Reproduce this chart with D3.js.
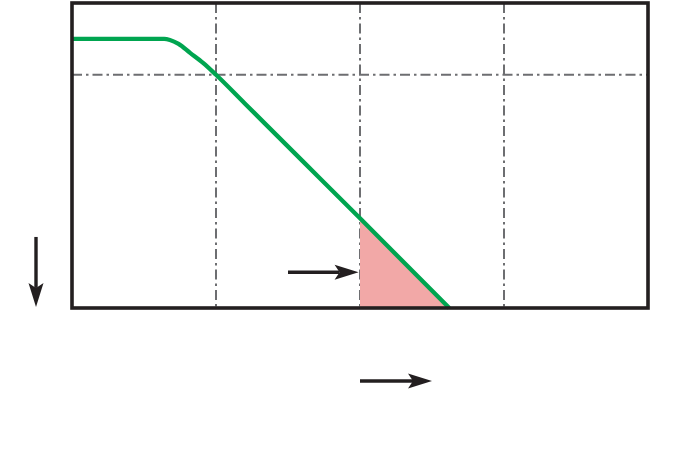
<!DOCTYPE html>
<html><head><meta charset="utf-8">
<script src="https://cdn.jsdelivr.net/npm/d3@7"></script>
<style>html,body{margin:0;padding:0;background:#fff;}svg{display:block;}</style>
</head><body>
<svg id="chart" width="694" height="466"></svg>
<script>
// Frequency in decades (log10 units), magnitude in dB
const xDomain = [0, 4];
const yDomain = [-75, 10];
const gridX = [1, 2, 3];
const gridY = [-10];
const curveX = [0, 0.64, 0.68, 0.74, 0.82, 0.91, 1.0, 1.2, 1.6, 2.0, 2.62];
const curveY = [0, 0, -0.3, -1.4, -3.9, -6.7, -10, -18, -34, -50, -75];
const shadeFrom = 2;           // shaded region start (decades)
const arrowDown = {x: -0.25, y0: -55.2, y1: -74.7};
const arrowIn = {y: -65.05, x0: 1.5, x1: 1.99};
const arrowFreq = {y: -95.35, x0: 2.0, x1: 2.5};

const svg = d3.select("#chart");
const x = d3.scaleLinear().domain(xDomain).range([72, 648]);
const y = d3.scaleLinear().domain(yDomain).range([308, 3]);
const ink = "#231f20";

// grid lines (dash-dot)
svg.append("g").selectAll("line").data(gridX).join("line")
  .attr("x1", d => x(d)).attr("x2", d => x(d))
  .attr("y1", y(yDomain[1])).attr("y2", y(yDomain[0]))
  .attr("stroke", "#6d6e71").attr("stroke-width", 2)
  .attr("stroke-dasharray", "10,4,2.5,4");
svg.append("g").selectAll("line").data(gridY).join("line")
  .attr("y1", d => y(d)).attr("y2", d => y(d))
  .attr("x1", x(xDomain[0])).attr("x2", x(xDomain[1]))
  .attr("stroke", "#6d6e71").attr("stroke-width", 2)
  .attr("stroke-dasharray", "10,4,2.5,4");

const pts = curveX.map((v, i) => [v, curveY[i]]);
// shaded region: from shadeFrom onward, under the curve
const shade = [[shadeFrom, yDomain[0]], ...pts.filter(p => p[0] >= shadeFrom)];
svg.append("path")
  .attr("d", d3.line().x(d => x(d[0])).y(d => y(d[1]))(shade) + "Z")
  .attr("fill", "#f2a8a7");

// response curve
svg.append("path")
  .attr("d", d3.line().x(d => x(d[0])).y(d => y(d[1])).curve(d3.curveMonotoneX)(pts))
  .attr("fill", "none").attr("stroke", "#00a550").attr("stroke-width", 4.3);

// frame
svg.append("rect")
  .attr("x", x(xDomain[0])).attr("y", y(yDomain[1]))
  .attr("width", x(xDomain[1]) - x(xDomain[0]))
  .attr("height", y(yDomain[0]) - y(yDomain[1]))
  .attr("fill", "none").attr("stroke", ink).attr("stroke-width", 3.6);

// arrows
function arrow(x0, y0, x1, y1) {
  const dx = x1 - x0, dy = y1 - y0, L = Math.hypot(dx, dy);
  const ux = dx / L, uy = dy / L, nx = -uy, ny = ux;
  const hl = 24, hw = 7.5, notch = 5;
  const bx = x1 - ux * hl, by = y1 - uy * hl;
  svg.append("line").attr("x1", x0).attr("y1", y0)
    .attr("x2", x1 - ux * (hl - notch)).attr("y2", y1 - uy * (hl - notch))
    .attr("stroke", ink).attr("stroke-width", 3.4);
  const p = [[x1, y1], [bx + nx * hw, by + ny * hw],
             [x1 - ux * (hl - notch), y1 - uy * (hl - notch)],
             [bx - nx * hw, by - ny * hw]];
  svg.append("path").attr("d", "M" + p.map(q => q.join(",")).join("L") + "Z").attr("fill", ink);
}
arrow(x(arrowDown.x), y(arrowDown.y0), x(arrowDown.x), y(arrowDown.y1));
arrow(x(arrowIn.x0), y(arrowIn.y), x(arrowIn.x1), y(arrowIn.y));
arrow(x(arrowFreq.x0), y(arrowFreq.y), x(arrowFreq.x1), y(arrowFreq.y));
</script>
</body></html>
